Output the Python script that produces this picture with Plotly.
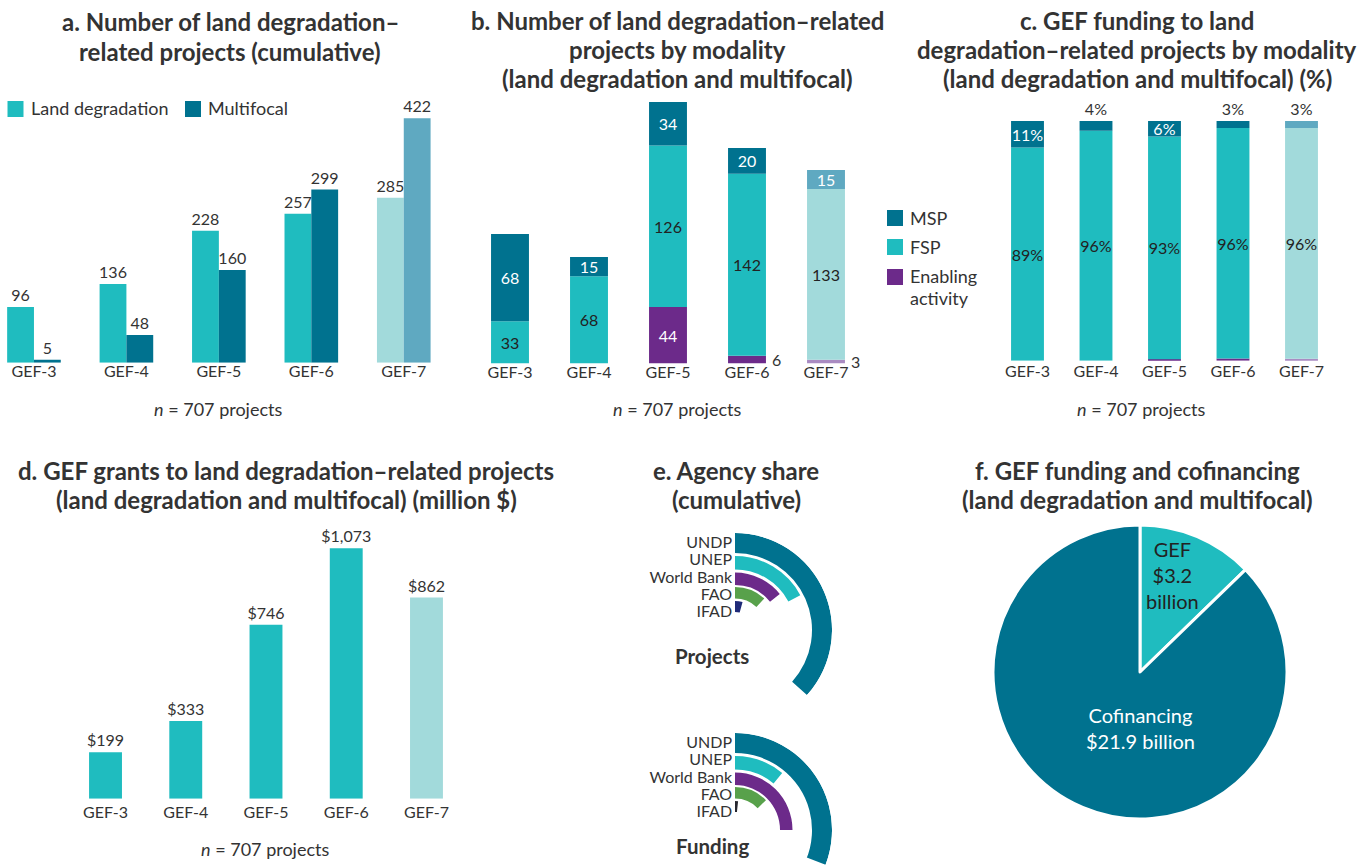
import plotly.graph_objects as go

W, H = 1369, 866

# ---------------- data ----------------
periods = ["GEF-3", "GEF-4", "GEF-5", "GEF-6", "GEF-7"]

# a. cumulative number of projects
ld_projects = [96, 136, 228, 257, 285]
mf_projects = [5, 48, 160, 299, 422]

# b. number of projects by modality
msp_projects = [68, 15, 34, 20, 15]
fsp_projects = [33, 68, 126, 142, 133]
ea_projects = [0, 0, 44, 6, 3]

# c. funding by modality (%)
msp_pct = [11.0, 4.0, 6.4, 2.9, 2.9]
fsp_pct = [89.0, 96.0, 93.0, 96.2, 96.3]
ea_pct = [0.0, 0.0, 0.6, 0.9, 0.8]

# d. GEF grants (million $)
gef_grants = [199, 333, 746, 1073, 862]

# e. agency share (%)
agencies = ["UNDP", "UNEP", "World Bank", "FAO", "IFAD"]
project_share = [36.7, 17.2, 14.2, 11.9, 4.2]
funding_share = [41.7, 11.0, 25.0, 12.8, 1.7]

# f. GEF funding and cofinancing ($ billion)
pie_labels = ["GEF", "Cofinancing"]
pie_values = [3.2, 21.9]

# ---------------- style ----------------
TEAL = "#1FBCBF"
DARK = "#00728F"
LTEAL = "#A2DADB"
LBLUE = "#5FA9C1"
PURPLE = "#6C2A8A"
LPURPLE = "#A98BC2"
GREEN = "#58A14B"
NAVY = "#1F2A78"
TXT = "#333333"
FONT = "Lato"


def shade(base, light):
    return [base] * (len(periods) - 1) + [light]


def xd(a, b):
    return [a / W, b / W]


def yd(top, bottom):
    return [1 - bottom / H, 1 - top / H]


fig = go.Figure()
bar_common = dict(constraintext="none", textangle=0, cliponaxis=False, showlegend=False,
                  hoverinfo="skip")

# ---- a ----
WA = 0.29
fig.add_trace(go.Bar(x=periods, y=ld_projects, offset=-WA, width=WA,
                     marker=dict(color=shade(TEAL, LTEAL), line_width=0),
                     text=ld_projects, textposition="outside",
                     textfont=dict(size=16, color=TXT),
                     name="Land degradation", xaxis="x", yaxis="y", **bar_common))
fig.add_trace(go.Bar(x=periods, y=mf_projects, offset=0, width=WA,
                     marker=dict(color=shade(DARK, LBLUE), line_width=0),
                     text=mf_projects, textposition="outside",
                     textfont=dict(size=16, color=TXT),
                     name="Multifocal", xaxis="x", yaxis="y", **bar_common))

# ---- b ----
WB = 0.48
base_fsp = ea_projects
base_msp = [e + f for e, f in zip(ea_projects, fsp_projects)]
fig.add_trace(go.Bar(x=periods, y=ea_projects, base=[0] * 5, offset=-WB / 2, width=WB,
                     marker=dict(color=shade(PURPLE, LPURPLE), line_width=0),
                     text=[str(v) if v >= 10 else "" for v in ea_projects],
                     textposition="inside", insidetextanchor="middle",
                     textfont=dict(size=16, color="white"),
                     name="Enabling activity", xaxis="x2", yaxis="y2", **bar_common))
fig.add_trace(go.Bar(x=periods, y=fsp_projects, base=base_fsp, offset=-WB / 2, width=WB,
                     marker=dict(color=shade(TEAL, LTEAL), line_width=0),
                     text=[str(v) for v in fsp_projects],
                     textposition="inside", insidetextanchor="middle",
                     textfont=dict(size=16, color="#222222"),
                     name="FSP", xaxis="x2", yaxis="y2", **bar_common))
fig.add_trace(go.Bar(x=periods, y=msp_projects, base=base_msp, offset=-WB / 2, width=WB,
                     marker=dict(color=shade(DARK, LBLUE), line_width=0),
                     text=[str(v) for v in msp_projects],
                     textposition="inside", insidetextanchor="middle",
                     textfont=dict(size=16, color="white"),
                     name="MSP", xaxis="x2", yaxis="y2", **bar_common))

# ---- c ----
WC = 0.48
cbase_fsp = ea_pct
cbase_msp = [e + f for e, f in zip(ea_pct, fsp_pct)]
fig.add_trace(go.Bar(x=periods, y=ea_pct, base=[0] * 5, offset=-WC / 2, width=WC,
                     marker=dict(color=shade(PURPLE, LPURPLE), line_width=0),
                     name="Enabling activity", xaxis="x3", yaxis="y3", **bar_common))
fig.add_trace(go.Bar(x=periods, y=fsp_pct, base=cbase_fsp, offset=-WC / 2, width=WC,
                     marker=dict(color=shade(TEAL, LTEAL), line_width=0),
                     text=[f"{v:.0f}%" for v in fsp_pct],
                     textposition="inside", insidetextanchor="middle",
                     textfont=dict(size=16, color="#222222"),
                     name="FSP", xaxis="x3", yaxis="y3", **bar_common))
fig.add_trace(go.Bar(x=periods, y=msp_pct, base=cbase_msp, offset=-WC / 2, width=WC,
                     marker=dict(color=shade(DARK, LBLUE), line_width=0),
                     text=[f"{v:.0f}%" for v in msp_pct],
                     textposition=["inside" if v >= 5 else "outside" for v in msp_pct],
                     insidetextanchor="middle",
                     textfont=dict(size=16, color=["white" if v >= 5 else TXT for v in msp_pct]),
                     name="MSP", xaxis="x3", yaxis="y3", **bar_common))

# ---- d ----
WD = 0.41
fig.add_trace(go.Bar(x=periods, y=gef_grants, offset=-WD / 2, width=WD,
                     marker=dict(color=shade(TEAL, LTEAL), line_width=0),
                     text=[f"${v:,}" for v in gef_grants], textposition="outside",
                     textfont=dict(size=16, color=TXT),
                     name="GEF grants", xaxis="x4", yaxis="y4", **bar_common))

# ---- e ----
RING_OUTER = [97, 74, 57.5, 43, 29]
RING_INNER = [77, 60.5, 45, 31.5, 18]
LABEL_R = [87, 70, 52.5, 35, 18]
proj_colors = [DARK, TEAL, PURPLE, GREEN, NAVY]
fund_colors = [DARK, TEAL, PURPLE, GREEN, "#26262E"]
DEG = 3.6  # degrees per percentage point
for share, cols, sp in [(project_share, proj_colors, "polar"), (funding_share, fund_colors, "polar2")]:
    fig.add_trace(go.Barpolar(r=[o - i for o, i in zip(RING_OUTER, RING_INNER)], base=RING_INNER,
                              theta=[s * DEG / 2 for s in share],
                              width=[s * DEG for s in share],
                              marker=dict(color=cols, line_width=0),
                              showlegend=False, subplot=sp, hoverinfo="skip"))

# ---- f ----
fig.add_trace(go.Pie(labels=pie_labels, values=pie_values, sort=False, direction="clockwise",
                     rotation=0, domain=dict(x=xd(993, 1287), y=yd(525, 819)),
                     marker=dict(colors=[TEAL, DARK], line=dict(color="white", width=3)),
                     textinfo="none", showlegend=False, hoverinfo="skip"))

# ---------------- layout ----------------
xcommon = dict(type="category", categoryorder="array", categoryarray=periods,
               showgrid=False, zeroline=False, showline=False, ticks="",
               tickfont=dict(size=16, color=TXT), fixedrange=True)
ycommon = dict(visible=False, showgrid=False, zeroline=False, fixedrange=True)

polar_common = dict(
    bgcolor="rgba(0,0,0,0)",
    angularaxis=dict(rotation=90, direction="clockwise", visible=False,
                     showgrid=False, showline=False, ticks=""),
    radialaxis=dict(range=[0, 97], showgrid=False, showline=False, ticks="",
                    tickvals=LABEL_R, ticktext=agencies, angle=90, tickangle=90,
                    side="counterclockwise", tickfont=dict(size=16, color=TXT)),
)

annotations = []


def title(lines, cx, y0, step=29.5):
    for i, t in enumerate(lines):
        annotations.append(dict(text=f"<b>{t}</b>", x=cx / W, y=1 - (y0 + i * step) / H,
                                xref="paper", yref="paper", xanchor="center", yanchor="middle",
                                showarrow=False, font=dict(size=24, color=TXT, family=FONT)))


def note(text, cx, cy, size=18, color=TXT, anchor="center"):
    annotations.append(dict(text=text, x=cx / W, y=1 - cy / H, xref="paper", yref="paper",
                            xanchor=anchor, yanchor="middle", showarrow=False,
                            font=dict(size=size, color=color, family=FONT)))


title(["a. Number of land degradation–", "related projects (cumulative)"], 230, 22)
title(["b. Number of land degradation–related", "projects by modality",
       "(land degradation and multifocal)"], 677, 20)
title(["c. GEF funding to land", "degradation–related projects by modality",
       "(land degradation and multifocal) (%)"], 1137, 20)
title(["d. GEF grants to land degradation–related projects",
       "(land degradation and multifocal) (million $)"], 286, 470)
title(["e. Agency share", "(cumulative)"], 736, 470)
title(["f. GEF funding and cofinancing", "(land degradation and multifocal)"], 1137, 470)

for cx, cy in [(218, 409), (677, 409), (1141, 409), (265, 849)]:
    note("<i>n</i> = 707 projects", cx, cy)

note("<b>Projects</b>", 712, 656, size=20.5)
note("<b>Funding</b>", 712, 846, size=20.5)

# pie labels (text from the data)
note(f"{pie_labels[0]}<br>${pie_values[0]:.1f}<br>billion", 1172, 575, size=20, color="#222222")
note(f"{pie_labels[1]}<br>${pie_values[1]:.1f} billion", 1140, 728, size=20, color="white")

# small enabling-activity values beside the bars in panel b
for p, v in zip(periods, ea_projects):
    if 0 < v < 10:
        annotations.append(dict(text=str(v), x=p, y=v / 2, xref="x2", yref="y2",
                                xanchor="left", yanchor="middle", xshift=23, showarrow=False,
                                font=dict(size=16, color=TXT, family=FONT)))

# legends
shapes = []


def swatch(x0, y0, color, size=16):
    shapes.append(dict(type="rect", xref="paper", yref="paper", x0=x0 / W, x1=(x0 + size) / W,
                       y0=1 - (y0 + size) / H, y1=1 - y0 / H, fillcolor=color, line_width=0))


swatch(7.5, 101, TEAL)
note("Land degradation", 29, 108.5, anchor="left")
swatch(185, 101, DARK)
note("Multifocal", 206.5, 108.5, anchor="left")

swatch(887, 210, DARK)
note("MSP", 908, 218, anchor="left")
swatch(887, 239, TEAL)
note("FSP", 908, 247, anchor="left")
swatch(887, 269, PURPLE)
note("Enabling", 908, 276, anchor="left")
note("activity", 908, 298, anchor="left")

fig.update_layout(
    width=W, height=H, margin=dict(l=0, r=0, t=0, b=0),
    paper_bgcolor="white", plot_bgcolor="white",
    font=dict(family=FONT, color=TXT),
    barmode="overlay", showlegend=False, hovermode=False,
    xaxis=dict(domain=xd(1.6, 450), range=[-0.35, 4.5], anchor="y", ticklabelstandoff=-3, **xcommon),
    yaxis=dict(domain=yd(100, 362.7), range=[0, 453.6], anchor="x", **ycommon),
    xaxis2=dict(domain=xd(470.5, 865.5), range=[-0.5, 4.5], anchor="y2", ticklabelstandoff=-3, **xcommon),
    yaxis2=dict(domain=yd(100, 363.5), range=[0, 205.5], anchor="x2", **ycommon),
    xaxis3=dict(domain=xd(993.25, 1335.75), range=[-0.5, 4.5], anchor="y3", ticklabelstandoff=-1, **xcommon),
    yaxis3=dict(domain=yd(100, 360.7), range=[0, 108.8], anchor="x3", **ycommon),
    xaxis4=dict(domain=xd(65.4, 466.6), range=[-0.5, 4.5], anchor="y4", ticklabelstandoff=2, **xcommon),
    yaxis4=dict(domain=yd(530, 798.7), range=[0, 1151.7], anchor="x4", **ycommon),
    polar=dict(domain=dict(x=xd(735, 832), y=yd(533, 533 + 97 * 1.7071)),
               sector=[-45, 90], **polar_common),
    polar2=dict(domain=dict(x=xd(735, 832), y=yd(733, 733 + 97 * 1.3584)),
                sector=[-21, 90], **polar_common),
    annotations=annotations, shapes=shapes,
)

fig.write_html("out.html", config={"displayModeBar": False},
               post_script="document.body.style.margin='0';")
